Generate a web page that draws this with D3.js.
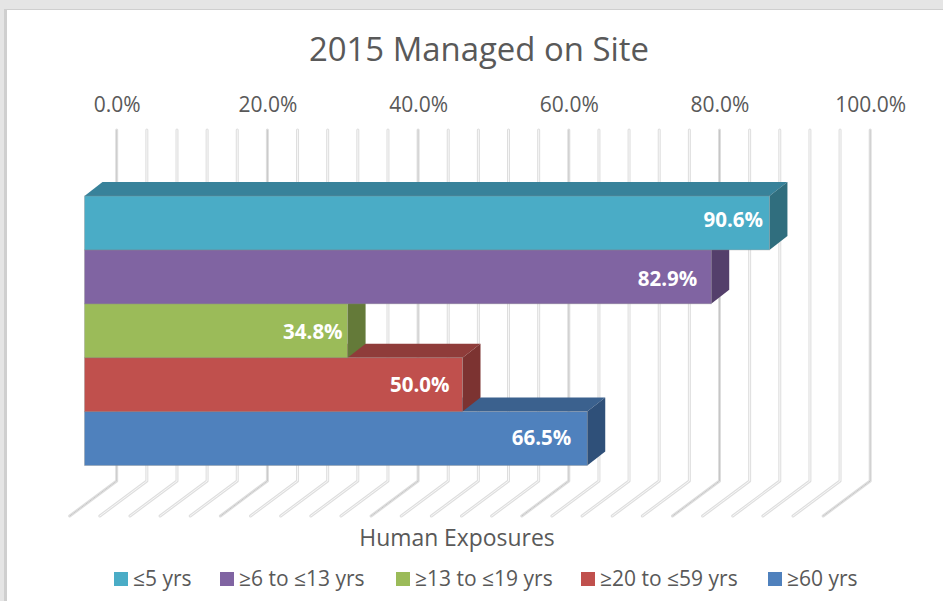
<!DOCTYPE html>
<html>
<head>
<meta charset="utf-8">
<title>2015 Managed on Site</title>
<script src="https://cdnjs.cloudflare.com/ajax/libs/d3/7.8.5/d3.min.js"></script>
<style>
  html, body { margin: 0; padding: 0; background: #fff; }
  svg { display: block; font-family: "Open Sans", sans-serif; }
</style>
</head>
<body>
<script>
// valores
var categories = ["≤5 yrs", "≥6 to ≤13 yrs", "≥13 to ≤19 yrs", "≥20 to ≤59 yrs", "≥60 yrs"];
var values = [90.6, 82.9, 34.8, 50.0, 66.5];
var frontColors = ["#4aacc6", "#8064a2", "#9bbb59", "#c0504d", "#4f81bd"];
var topColors = ["#38829a", "#604b7a", "#748c43", "#8f3c3a", "#3b618e"];
var sideColors = ["#306e7e", "#543f6b", "#647a39", "#7c3331", "#2f5079"];
var axisLabels = [0, 20, 40, 60, 80, 100];
var gridValues = d3.range(0, 101, 4);
var legendX = [114, 220, 396, 581, 768];
// los rotulos no quedan a la misma distancia de cada barra en el original
var labelGap = [6.5, 14, 5, 13, 16];
var labelDrop = [31, 36, 35, 34, 33];

var width = 943, height = 601;
var depthX = 18, depthY = 14;
var floorX = -47, floorY = 35;

var svg = d3.select("body").append("svg")
    .attr("width", width)
    .attr("height", height);

// marco gris de la captura
svg.append("rect").attr("width", width).attr("height", height).attr("fill", "#e5e5e5");
svg.append("rect").attr("x", 4).attr("y", 9).attr("width", width).attr("height", height).attr("fill", "#cfcfcf");
svg.append("rect").attr("x", 7).attr("y", 10).attr("width", width).attr("height", height).attr("fill", "#fff");

var xBack = d3.scaleLinear().domain([0, 100]).range([116.7, 870.2]);
var xFront = d3.scaleLinear().domain([0, 100]).range([84.5, 840.5]);
var y = d3.scaleBand().domain(categories).range([196, 465.5]);

svg.append("text")
    .attr("x", 479)
    .attr("y", 61)
    .attr("text-anchor", "middle")
    .attr("font-size", 32.9)
    .attr("fill", "#595959")
    .text("2015 Managed on Site");

// rotulos del eje de arriba
var axis = svg.append("g")
    .attr("transform", "translate(0,112)")
    .call(d3.axisTop(xBack)
        .tickValues(axisLabels)
        .tickSize(0)
        .tickPadding(0)
        .tickFormat(function(d) { return d.toFixed(1) + "%"; }));
axis.select(".domain").remove();
axis.selectAll("text")
    .attr("font-family", '"Open Sans", sans-serif')
    .attr("font-size", 21)
    .attr("fill", "#595959");

// rejilla: pared del fondo y piso
var gridLine = function(d) {
    var x = xBack(d);
    return "M" + x + ",130V481L" + (x + floorX) + "," + (481 + floorY);
};
var grid = svg.append("g").attr("fill", "none").attr("stroke-linejoin", "round").attr("stroke-linecap", "round");
grid.selectAll("path.outer")
    .data(gridValues)
    .enter().append("path")
    .attr("class", "outer")
    .attr("d", gridLine)
    .attr("stroke", "#dedede")
    .attr("stroke-width", 3);
grid.selectAll("path.inner")
    .data(gridValues)
    .enter().append("path")
    .attr("class", "inner")
    .attr("d", gridLine)
    .attr("stroke", "#f7f7f7")
    .attr("stroke-width", 1);
grid.selectAll("path.major")
    .data(axisLabels)
    .enter().append("path")
    .attr("class", "major")
    .attr("d", gridLine)
    .attr("stroke", "#c6c6c6")
    .attr("stroke-width", 1);

// barras: de abajo hacia arriba, cada una tapa la cara superior de la siguiente
var order = d3.range(categories.length).reverse();
var bars = svg.selectAll("g.bar")
    .data(order)
    .enter().append("g")
    .attr("class", "bar");

bars.append("path")
    .attr("fill", function(i) { return topColors[i]; })
    .attr("d", function(i) {
        var x0 = xFront(0), x1 = xFront(values[i]), y0 = y(categories[i]);
        return "M" + x0 + "," + y0 + "L" + (x0 + depthX) + "," + (y0 - depthY) +
            "H" + (x1 + depthX) + "L" + x1 + "," + y0 + "Z";
    });

bars.append("path")
    .attr("fill", function(i) { return sideColors[i]; })
    .attr("d", function(i) {
        var x1 = xFront(values[i]), y0 = y(categories[i]), b = y.bandwidth();
        return "M" + x1 + "," + y0 + "L" + (x1 + depthX) + "," + (y0 - depthY) +
            "V" + (y0 + b - depthY) + "L" + x1 + "," + (y0 + b) + "Z";
    });

bars.append("rect")
    .attr("x", xFront(0))
    .attr("y", function(i) { return y(categories[i]); })
    .attr("width", function(i) { return xFront(values[i]) - xFront(0); })
    .attr("height", y.bandwidth())
    .attr("fill", function(i) { return frontColors[i]; })
    .attr("stroke", "#8a8a8a")
    .attr("stroke-opacity", 0.35)
    .attr("stroke-width", 1);

bars.append("text")
    .attr("x", function(i) { return xFront(values[i]) - labelGap[i]; })
    .attr("y", function(i) { return y(categories[i]) + labelDrop[i]; })
    .attr("text-anchor", "end")
    .attr("font-size", 20.5)
    .attr("font-weight", 700)
    .attr("fill", "#fff")
    .text(function(i) { return values[i].toFixed(1) + "%"; });

svg.append("text")
    .attr("x", 457)
    .attr("y", 546)
    .attr("text-anchor", "middle")
    .attr("font-size", 22.9)
    .attr("fill", "#595959")
    .text("Human Exposures");

// leyenda
var legend = svg.selectAll("g.legend")
    .data(categories)
    .enter().append("g")
    .attr("class", "legend")
    .attr("transform", function(d, i) { return "translate(" + legendX[i] + ",572)"; });
legend.append("rect")
    .attr("width", 14)
    .attr("height", 14)
    .attr("fill", function(d, i) { return frontColors[i]; });
legend.append("text")
    .attr("x", 19)
    .attr("y", 14)
    .attr("font-size", 21)
    .attr("fill", "#595959")
    .text(function(d) { return d; });
</script>
</body>
</html>
